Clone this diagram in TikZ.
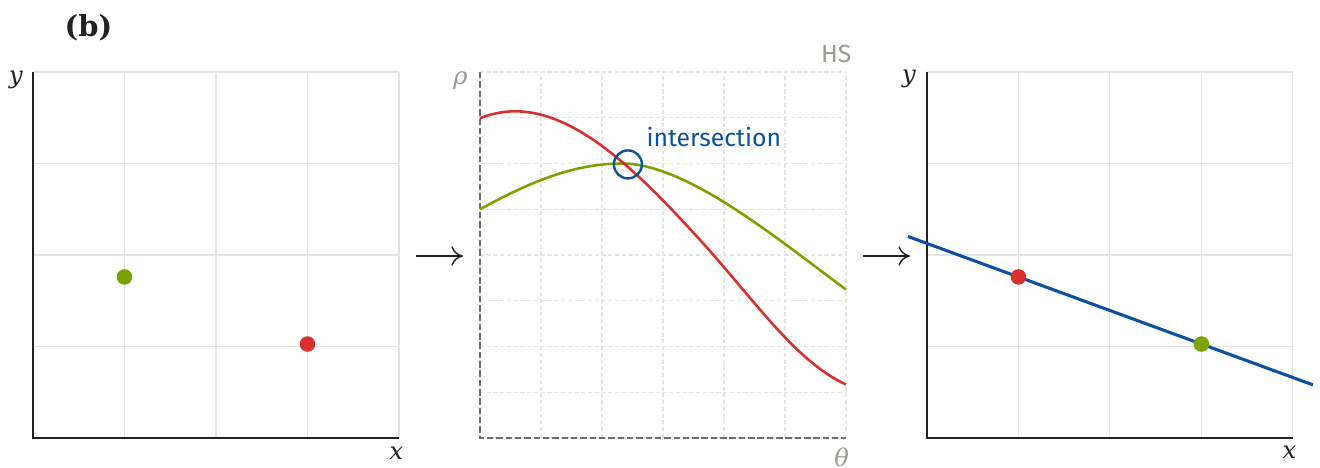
\documentclass[tikz,border=0pt]{standalone}
\usepackage{fontspec}
\setsansfont{Fira Sans}
\newfontfamily\tagfont{DejaVu Serif}
\usetikzlibrary{arrows.meta,calc}
\definecolor{HoughRed}{HTML}{D9302E}
\definecolor{HoughGreen}{HTML}{7AA300}
\definecolor{HoughBlue}{HTML}{0B51A1}
\definecolor{HoughInk}{HTML}{222222}
\definecolor{HoughGray}{HTML}{9A9A90}
\definecolor{HoughGrid}{HTML}{E4E4E4}
\definecolor{HoughAxis}{HTML}{6E6E6E}
\tikzset{
  figtag/.style={font={\tagfont\bfseries\fontsize{9}{11}\selectfont}, text=HoughInk, inner sep=0pt},
  axislabel/.style={font={\tagfont\itshape\fontsize{7.5}{9}\selectfont}, text=HoughInk, inner sep=0pt},
  hslabel/.style={axislabel, text=HoughGray},
  gridline/.style={draw=HoughGrid, line width=0.35pt},
  axisline/.style={draw=HoughInk, line width=0.65pt},
  hsgrid/.style={draw=HoughGrid, line width=0.35pt, dash pattern=on 1.3pt off 0.8pt},
  hsaxis/.style={draw=HoughAxis, line width=0.6pt, dash pattern=on 2pt off 0.9pt},
  dot/.style={circle, inner sep=0pt, minimum size=0.17cm, draw=none},
  curve/.style={line width=0.8pt, line join=round},
  fitline/.style={draw=HoughBlue, line width=0.95pt},
  flow/.style={-{To[length=3.6pt,width=6pt]}, line width=0.45pt, HoughInk},
  note/.style={font={\sffamily\fontsize{7.7}{9}\selectfont}, inner sep=0pt},
}

\begin{document}
\begin{tikzpicture}
  \useasboundingbox (-0.3607,-0.3279) rectangle (14.066,4.787);

  \node[figtag, anchor=base west] (tag) at (0.339,4.383) {(b)};

  % image space, two points
  \draw[gridline] (0,0) grid (4,4);
  \draw[axisline] (0,4) -- (0,0) -- (4,0);
  \node[axislabel, anchor=base] (y1) at (-0.186,3.869) {y};
  \node[axislabel, anchor=base] (x1) at (3.973,-0.23) {x};
  \node[dot, fill=HoughGreen] (g1) at (1,1.76) {};
  \node[dot, fill=HoughRed] (r1) at (3,1.027) {};

  \coordinate (a1s) at (4.186,1.989);
  \coordinate (a1e) at (4.699,1.989);
  \draw[flow] (a1s) -- (a1e);

  % hough space, one curve per point
  \begin{scope}[shift={(4.885,0)}]
    \draw[hsgrid, xstep=0.66666, ystep=0.5] (0,0) grid (4,4);
    \draw[hsaxis] (0,4) -- (0,0) -- (4,0);
    \node[hslabel, anchor=base] (rho) at (-0.213,3.858) {ρ};
    \node[hslabel, anchor=base] (theta) at (3.953,-0.313) {θ};
    \node[note, text=HoughGray, anchor=base east] (hs) at (4.066,4.109) {HS};

    \draw[curve, HoughGreen] (0,2.5) .. controls (0.53,2.79) and (1.02,3.0) .. (1.55,3.0)
      .. controls (2.25,3.0) and (3.2,2.215) .. (4,1.623);
    \draw[curve, HoughRed] (0,3.494) .. controls (0.8,3.82) and (1.6,3.05) .. (2.4,2.17)
      .. controls (3.0,1.51) and (3.45,0.835) .. (4,0.585);

    \node[circle, draw=HoughBlue, line width=0.75pt, minimum size=0.306cm, inner sep=0pt]
      (meet) at (1.617,2.99) {};
    \node[note, text=HoughBlue, anchor=base west] (meetlabel) at (1.814,3.191) {intersection};
  \end{scope}

  \coordinate (a2s) at (9.071,1.989);
  \coordinate (a2e) at (9.585,1.989);
  \draw[flow] (a2s) -- (a2e);

  % back in image space, the fitted line
  \begin{scope}[shift={(9.770,0)}]
    \draw[gridline] (0,0) grid (4,4);
    \draw[axisline] (0,4) -- (0,0) -- (4,0);
    \node[axislabel, anchor=base] (y3) at (-0.197,3.88) {y};
    \node[axislabel, anchor=base] (x3) at (3.962,-0.219) {x};
    \coordinate (rp) at (1,1.76);
    \coordinate (gp) at (3,1.027);
    \draw[fitline] ($(rp)!-0.604!(gp)$) -- ($(rp)!1.6095!(gp)$);
    \node[dot, fill=HoughRed] (r3) at (rp) {};
    \node[dot, fill=HoughGreen] (g3) at (gp) {};
  \end{scope}
\end{tikzpicture}
\end{document}
